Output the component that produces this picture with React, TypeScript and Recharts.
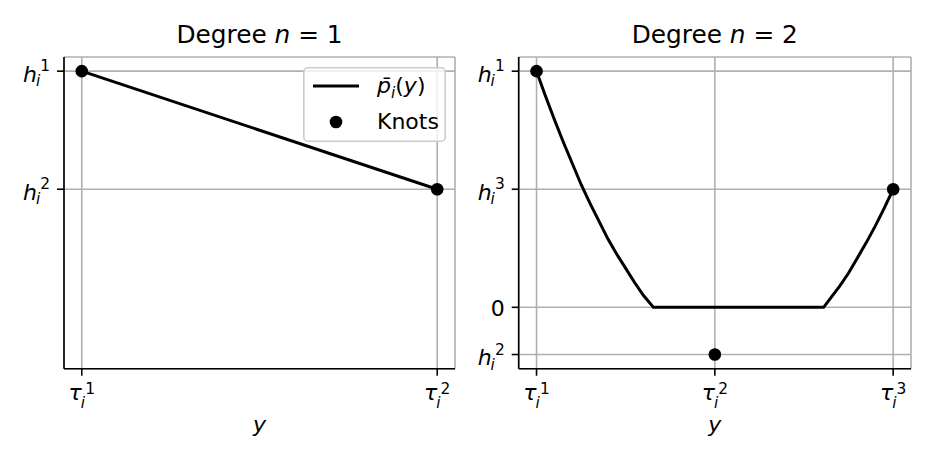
import { ComposedChart, Line, Scatter, XAxis, YAxis, CartesianGrid, Legend } from 'recharts';

// knots of the two splines
const leftKnotX = [0, 1];
const leftKnotH = [2, 1];
const rightKnotX = [0, 1, 2];
const rightKnotH = [2, -0.4, 1];

// p̄_i(y) for degree 2
const curveX = [0, 0.05, 0.1, 0.15, 0.2, 0.25, 0.3, 0.35, 0.4, 0.45, 0.5, 0.55, 0.6, 0.65, 0.655,
  1.61, 1.65, 1.7, 1.75, 1.8, 1.85, 1.9, 1.95, 2];
const curveY = [2, 1.79, 1.59, 1.4, 1.22, 1.04, 0.88, 0.73, 0.58, 0.45, 0.33, 0.21, 0.1, 0.01, 0,
  0, 0.08, 0.18, 0.29, 0.42, 0.55, 0.69, 0.84, 1];

// tick positions and their labels: [base, sub, sup]
const leftXTicks = [0, 1];
const leftXLabels = [['τ', 'i', '1'], ['τ', 'i', '2']];
const leftYTicks = [1, 2];
const leftYLabels = [['h', 'i', '2'], ['h', 'i', '1']];
const rightXTicks = [0, 1, 2];
const rightXLabels = [['τ', 'i', '1'], ['τ', 'i', '2'], ['τ', 'i', '3']];
const rightYTicks = [-0.4, 0, 1, 2];
const rightYLabels = [['h', 'i', '2'], ['0', '', ''], ['h', 'i', '3'], ['h', 'i', '1']];

const titles = ['Degree', 'Degree'];
const degrees = ['1', '2'];

const FONT = '"DejaVu Sans", sans-serif';
const FS = 22;
const SFS = 15.4;
const Y_DOMAIN: [number, number] = [-0.52, 2.12];

const zip = (xs: number[], ys: number[]) => xs.map((x, i) => ({ x, y: ys[i] }));
const leftLine = zip(leftKnotX, leftKnotH);
const leftKnots = zip(leftKnotX, leftKnotH);
const rightLine = zip(curveX, curveY);
const rightKnots = zip(rightKnotX, rightKnotH);

const YTick = (props: any) => {
  const { x, y, payload, ticks, labels } = props;
  const [base, sub, sup] = labels[ticks.indexOf(payload.value)];
  if (!sub) {
    return (
      <text x={x} y={y + 8.5} textAnchor="end" fontSize={FS} fontFamily={FONT} fill="#000">
        {base}
      </text>
    );
  }
  return (
    <text x={x} y={y + 10.5} textAnchor="end" fontSize={FS} fontFamily={FONT} fill="#000">
      <tspan fontStyle="italic">{base}</tspan>
      <tspan fontStyle="italic" fontSize={SFS} dx={-1} dy={4.5}>{sub}</tspan>
      <tspan fontSize={SFS} dx={0} dy={-15}>{sup}</tspan>
    </text>
  );
};

const XTick = (props: any) => {
  const { x, y, payload, ticks, labels } = props;
  const [base, sub, sup] = labels[ticks.indexOf(payload.value)];
  return (
    <text x={x} y={y + 17.5} textAnchor="middle" fontSize={FS} fontFamily={FONT} fill="#000">
      <tspan fontStyle="italic">{base}</tspan>
      <tspan fontStyle="italic" fontSize={SFS} dx={-1} dy={7.5}>{sub}</tspan>
      <tspan fontSize={SFS} dx={0} dy={-14}>{sup}</tspan>
    </text>
  );
};

const Knot = (props: any) => <circle cx={props.cx} cy={props.cy} r={6.3} fill="#000" />;

const LegendBox = () => (
  <svg width={143} height={75} style={{ display: 'block' }}>
    <rect x={0.8} y={0.8} width={141.4} height={73.4} rx={4} fill="rgba(255,255,255,0.8)" stroke="#cccccc" strokeWidth={1.6} />
    <line x1={10} x2={56} y1={19} y2={19} stroke="#000" strokeWidth={3} />
    <circle cx={33} cy={55} r={6.3} fill="#000" />
    <text x={74} y={26} fontSize={FS} fontFamily={FONT} fill="#000">
      <tspan fontStyle="italic">p̄</tspan>
      <tspan fontStyle="italic" fontSize={SFS} dy={4.5}>i</tspan>
      <tspan dy={-4.5}>(</tspan>
      <tspan fontStyle="italic">y</tspan>
      <tspan>)</tspan>
    </text>
    <text x={74} y={61.5} fontSize={FS} fontFamily={FONT} fill="#000">Knots</text>
  </svg>
);

const xLabel = {
  content: ({ viewBox }: any) => (
    <text x={viewBox.x + viewBox.width / 2} y={viewBox.y + 63} textAnchor="middle" fontSize={FS} fontStyle="italic" fontFamily={FONT} fill="#000">
      y
    </text>
  ),
};

const Title = ({ idx, cx }: { idx: number; cx: number }) => (
  <div
    style={{
      position: 'absolute', left: cx, top: 22.5, transform: 'translateX(-50%)',
      fontFamily: FONT, fontSize: 24.8, lineHeight: '24.8px', whiteSpace: 'nowrap', color: '#000',
    }}
  >
    {titles[idx]} <i>n</i> = {degrees[idx]}
  </div>
);

export default function App() {
  return (
    <div style={{ position: 'absolute', left: 0, top: 0, width: 934, height: 467, background: '#fff' }}>
      <Title idx={0} cx={259.5} />
      <Title idx={1} cx={714.8} />
      <div style={{ position: 'absolute', left: 0, top: 0 }}>
        <ComposedChart width={467} height={467} margin={{ top: 57, right: 12, bottom: 68.3, left: 4 }}>
          <CartesianGrid stroke="#b0b0b0" strokeWidth={1.6} />
          <XAxis
            dataKey="x" type="number" domain={[-0.05, 1.05]} ticks={leftXTicks} interval={0} height={30}
            stroke="#000" strokeWidth={1.6} tickSize={7} tickMargin={7}
            tick={(p: any) => <XTick {...p} ticks={leftXTicks} labels={leftXLabels} />}
            label={xLabel}
          />
          <YAxis
            type="number" domain={Y_DOMAIN} ticks={leftYTicks} interval={0} width={60}
            stroke="#000" strokeWidth={1.6} tickSize={7} tickMargin={7}
            tick={(p: any) => <YTick {...p} ticks={leftYTicks} labels={leftYLabels} />}
          />
          <Line data={leftLine} dataKey="y" stroke="#000" strokeWidth={3} dot={false} type="linear" isAnimationActive={false} />
          <Scatter data={leftKnots} dataKey="y" shape={Knot} isAnimationActive={false} />
          <Legend
            layout="vertical" align="center" verticalAlign="middle"
            wrapperStyle={{ left: 303, top: 67, width: 143, height: 75 }}
            content={() => <LegendBox />}
          />
        </ComposedChart>
      </div>
      <div style={{ position: 'absolute', left: 467, top: 0 }}>
        <ComposedChart width={467} height={467} margin={{ top: 57, right: 23, bottom: 68.3, left: -8.3 }}>
          <CartesianGrid stroke="#b0b0b0" strokeWidth={1.6} />
          <XAxis
            dataKey="x" type="number" domain={[-0.1, 2.1]} ticks={rightXTicks} interval={0} height={30}
            stroke="#000" strokeWidth={1.6} tickSize={7} tickMargin={7}
            tick={(p: any) => <XTick {...p} ticks={rightXTicks} labels={rightXLabels} />}
            label={xLabel}
          />
          <YAxis
            type="number" domain={Y_DOMAIN} ticks={rightYTicks} interval={0} width={60}
            stroke="#000" strokeWidth={1.6} tickSize={7} tickMargin={7}
            tick={(p: any) => <YTick {...p} ticks={rightYTicks} labels={rightYLabels} />}
          />
          <Line data={rightLine} dataKey="y" stroke="#000" strokeWidth={3} dot={false} type="linear" isAnimationActive={false} />
          <Scatter data={rightKnots} dataKey="y" shape={Knot} isAnimationActive={false} />
        </ComposedChart>
      </div>
    </div>
  );
}
